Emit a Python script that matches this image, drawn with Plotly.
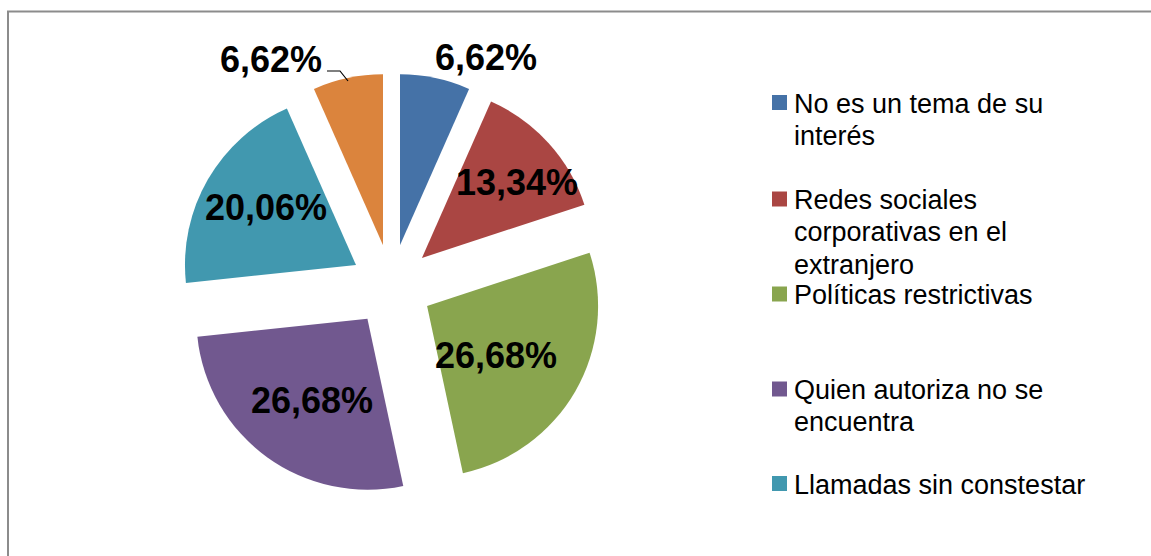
import plotly.graph_objects as go

# Reasons for not answering (percent of respondents)
categories = [
    "No es un tema de su interés",
    "Redes sociales corporativas en el extranjero",
    "Políticas restrictivas",
    "Quien autoriza no se encuentra",
    "Llamadas sin constestar",
    "Otros",
]
values = [6.62, 13.34, 26.68, 26.68, 20.06, 6.62]
colors = ["#4572A7", "#AA4643", "#89A54E", "#71588F", "#4198AF", "#DB843D"]

# Legend lines as wrapped in the side panel (last category is not listed)
legend_lines = [
    ["No es un tema de su", "interés"],
    ["Redes sociales", "corporativas en el", "extranjero"],
    ["Políticas restrictivas"],
    ["Quien autoriza no se", "encuentra"],
    ["Llamadas sin constestar"],
]

W, H = 1151, 556


def px(x):
    return x / W


def py(y):
    return 1 - y / H


# Pie geometry (pixels)
CX, CY, R, PULL = 391.5, 285.5, 171, 0.24
half = R * (1 + PULL)

fig = go.Figure()
fig.add_trace(go.Pie(
    labels=categories,
    values=values,
    sort=False,
    direction="clockwise",
    rotation=0,
    pull=[PULL] * len(values),
    marker=dict(colors=colors, line=dict(width=0)),
    textinfo="none",
    hoverinfo="label+percent",
    showlegend=False,
    domain=dict(x=[px(CX - half), px(CX + half)], y=[py(CY + half), py(CY - half)]),
))

# Data label placement (pixel centres) for each slice
label_pos = [(486, 57), (517, 183), (495.5, 355.5), (312, 400), (265.5, 207.5), (270.5, 59.5)]

annotations = []
for v, (lx, ly) in zip(values, label_pos):
    annotations.append(dict(
        x=px(lx), y=py(ly), xref="paper", yref="paper",
        xanchor="center", yanchor="middle", showarrow=False,
        text="<b>" + f"{v:.2f}".replace(".", ",") + "%</b>",
        font=dict(family="Arial, Liberation Sans, sans-serif", size=36, color="#000000"),
    ))

shapes = []
# Leader line for the small orange slice label
shapes.append(dict(
    type="path", xref="paper", yref="paper",
    path=f"M {px(327)} {py(71)} L {px(340)} {py(71)} L {px(348)} {py(81)}",
    line=dict(color="#000000", width=1.2),
))

# Legend panel: colour squares and wrapped labels, one text row per line
legend_square_y = [102.5, 199, 294, 389, 483.5]
legend_first_baseline = [112, 208, 303, 398, 493]
LINE_STEP = 32.5
FS = 27
for col, lines, sy, base in zip(colors, legend_lines, legend_square_y, legend_first_baseline):
    shapes.append(dict(
        type="rect", xref="paper", yref="paper",
        x0=px(772), x1=px(787), y0=py(sy - 7.5), y1=py(sy + 7.5),
        fillcolor=col, line=dict(width=0),
    ))
    for k, line in enumerate(lines):
        b = base + k * LINE_STEP
        annotations.append(dict(
            x=px(791.5), y=py(b - 0.905 * FS - 1), xref="paper", yref="paper",
            xanchor="left", yanchor="top", align="left", showarrow=False,
            text=line,
            font=dict(family="Arial, Liberation Sans, sans-serif", size=FS, color="#000000"),
        ))

# Chart frame
shapes.append(dict(
    type="rect", xref="paper", yref="paper",
    x0=px(8), x1=px(1170), y0=py(11.5), y1=py(580),
    line=dict(color="#8C8C8C", width=2), fillcolor="rgba(0,0,0,0)",
))

fig.update_layout(
    width=W, height=H, autosize=False,
    margin=dict(l=0, r=0, t=0, b=0),
    paper_bgcolor="#FFFFFF", plot_bgcolor="#FFFFFF",
    annotations=annotations, shapes=shapes,
)

fig.write_html("out.html", config={"displayModeBar": False})
